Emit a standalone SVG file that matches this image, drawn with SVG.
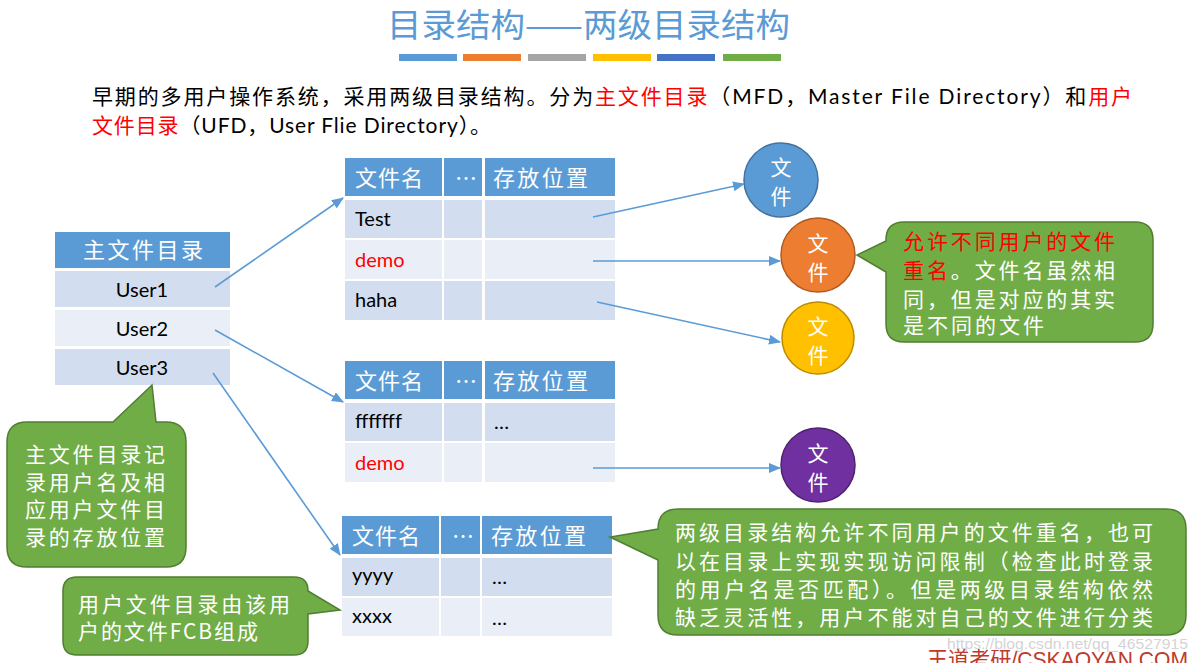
<svg xmlns="http://www.w3.org/2000/svg" width="1197" height="663" viewBox="0 0 1197 663">
<style>
.f{font-family:Lato,"Noto Sans CJK SC","Noto Sans",sans-serif}
.hd{fill:#5b9bd5}
.dk{fill:#d2deef}
.lt{fill:#eaeff7}
.ht{font-family:"Noto Sans CJK SC",sans-serif;font-size:22px;fill:#fff}
.ct{font-family:Lato,"Noto Sans CJK SC",sans-serif;font-size:20px;fill:#000}
.red{fill:#ff0000}
.call{fill:#70ad47;stroke:#507e32;stroke-width:1.5}
.cw{font-family:"Noto Sans CJK SC",sans-serif;font-size:21px;fill:#fff}
.cir{font-family:"Noto Sans CJK SC",sans-serif;font-size:21px;fill:#fff;text-anchor:middle}
.con{stroke:#5b9bd5;stroke-width:1.6;fill:none;marker-end:url(#ah)}
</style>
<defs>
<marker id="ah" markerUnits="userSpaceOnUse" markerWidth="12" markerHeight="10" refX="11" refY="5" orient="auto">
<path d="M0,0 L12,5 L0,10 Z" fill="#5b9bd5"/>
</marker>
</defs>
<rect width="1197" height="663" fill="#fff"/>

<g id="title">
<text x="387" y="37" font-family="Noto Sans CJK SC,sans-serif" font-size="33" fill="#5b9bd5" textLength="403" lengthAdjust="spacingAndGlyphs">目录结构——两级目录结构</text>
<rect x="399" y="54" width="58" height="7" fill="#5b9bd5"/>
<rect x="463" y="54" width="58" height="7" fill="#ed7d31"/>
<rect x="528" y="54" width="58" height="7" fill="#a5a5a5"/>
<rect x="593" y="54" width="58" height="7" fill="#ffc000"/>
<rect x="657" y="54" width="58" height="7" fill="#4472c4"/>
<rect x="723" y="54" width="58" height="7" fill="#70ad47"/>
</g>

<g id="intro" class="f" font-size="21">
<text x="92" y="104" textLength="1040" lengthAdjust="spacing">早期的多用户操作系统，采用两级目录结构。分为<tspan fill="#ff0000">主文件目录</tspan>（MFD，Master File Directory）和<tspan fill="#ff0000">用户</tspan></text>
<text x="92" y="133" textLength="399" lengthAdjust="spacing"><tspan fill="#ff0000">文件目录</tspan>（UFD，User Flie Directory）。</text>
</g>

<g id="mfd">
<rect class="hd" x="55" y="232" width="175" height="36"/>
<rect class="dk" x="55" y="271" width="175" height="36"/>
<rect class="lt" x="55" y="310" width="175" height="36"/>
<rect class="dk" x="55" y="349" width="175" height="36"/>
<text class="ht" x="83" y="258" textLength="120" lengthAdjust="spacing">主文件目录</text>
<text class="ct" x="142" y="297" text-anchor="middle">User1</text>
<text class="ct" x="142" y="336" text-anchor="middle">User2</text>
<text class="ct" x="142" y="375" text-anchor="middle">User3</text>
</g>

<g id="ufd1">
<rect class="hd" x="345" y="158" width="97" height="38"/>
<rect class="hd" x="444" y="158" width="38" height="38"/>
<rect class="hd" x="485" y="158" width="130" height="38"/>
<rect class="dk" x="345" y="200" width="97" height="38"/>
<rect class="dk" x="444" y="200" width="38" height="38"/>
<rect class="dk" x="485" y="200" width="130" height="38"/>
<rect class="lt" x="345" y="240" width="97" height="39"/>
<rect class="lt" x="444" y="240" width="38" height="39"/>
<rect class="lt" x="485" y="240" width="130" height="39"/>
<rect class="dk" x="345" y="281" width="97" height="39"/>
<rect class="dk" x="444" y="281" width="38" height="39"/>
<rect class="dk" x="485" y="281" width="130" height="39"/>
<text class="ht" x="355" y="186" textLength="68" lengthAdjust="spacing">文件名</text>
<text class="ht" x="455" y="186" font-family="Lato,sans-serif" font-size="18">…</text>
<text class="ht" x="493" y="186" textLength="95" lengthAdjust="spacing">存放位置</text>
<text class="ct" x="355" y="226">Test</text>
<text class="ct red" x="355" y="267">demo</text>
<text class="ct" x="355" y="307">haha</text>
</g>

<g id="ufd2">
<rect class="hd" x="345" y="361" width="97" height="38"/>
<rect class="hd" x="444" y="361" width="38" height="38"/>
<rect class="hd" x="485" y="361" width="130" height="38"/>
<rect class="dk" x="345" y="403" width="97" height="38"/>
<rect class="dk" x="444" y="403" width="38" height="38"/>
<rect class="dk" x="485" y="403" width="130" height="38"/>
<rect class="lt" x="345" y="443" width="97" height="39"/>
<rect class="lt" x="444" y="443" width="38" height="39"/>
<rect class="lt" x="485" y="443" width="130" height="39"/>
<text class="ht" x="355" y="389" textLength="68" lengthAdjust="spacing">文件名</text>
<text class="ht" x="455" y="389" font-family="Lato,sans-serif" font-size="18">…</text>
<text class="ht" x="493" y="389" textLength="95" lengthAdjust="spacing">存放位置</text>
<text class="ct" x="355" y="428">fffffff</text>
<text class="ct" x="494" y="429" font-size="17">…</text>
<text class="ct red" x="355" y="470">demo</text>
</g>

<g id="ufd3">
<rect class="hd" x="342" y="516" width="97" height="38"/>
<rect class="hd" x="441" y="516" width="39" height="38"/>
<rect class="hd" x="482" y="516" width="130" height="38"/>
<rect class="dk" x="342" y="558" width="97" height="38"/>
<rect class="dk" x="441" y="558" width="39" height="38"/>
<rect class="dk" x="482" y="558" width="130" height="38"/>
<rect class="lt" x="342" y="598" width="97" height="38"/>
<rect class="lt" x="441" y="598" width="39" height="38"/>
<rect class="lt" x="482" y="598" width="130" height="38"/>
<text class="ht" x="352" y="544" textLength="68" lengthAdjust="spacing">文件名</text>
<text class="ht" x="452" y="544" font-family="Lato,sans-serif" font-size="18">…</text>
<text class="ht" x="491" y="544" textLength="95" lengthAdjust="spacing">存放位置</text>
<text class="ct" x="352" y="582">yyyy</text>
<text class="ct" x="492" y="584" font-size="17">…</text>
<text class="ct" x="352" y="623">xxxx</text>
<text class="ct" x="492" y="625" font-size="17">…</text>
</g>

<g id="file1">
<circle cx="781" cy="180" r="37" fill="#5b9bd5" stroke="#41719c" stroke-width="1.5"/>
<text class="cir" x="781" y="175">文</text>
<text class="cir" x="781" y="204">件</text>
</g>
<g id="file2">
<circle cx="818" cy="255" r="37" fill="#ed7d31" stroke="#ae5a21" stroke-width="1.5"/>
<text class="cir" x="818" y="251">文</text>
<text class="cir" x="818" y="280">件</text>
</g>
<g id="file3">
<circle cx="818" cy="338" r="36" fill="#ffc000" stroke="#bc8c00" stroke-width="1.5"/>
<text class="cir" x="818" y="334">文</text>
<text class="cir" x="818" y="363">件</text>
</g>
<g id="file4">
<circle cx="818" cy="465" r="37" fill="#7030a0" stroke="#4e2270" stroke-width="1.5"/>
<text class="cir" x="818" y="461">文</text>
<text class="cir" x="818" y="490">件</text>
</g>

<g id="connectors">
<line class="con" x1="215" y1="287" x2="343" y2="198"/>
<line class="con" x1="215" y1="330" x2="343" y2="402"/>
<line class="con" x1="213" y1="373" x2="340" y2="555"/>
<line class="con" x1="593" y1="217" x2="744" y2="184"/>
<line class="con" x1="593" y1="261" x2="780" y2="261"/>
<line class="con" x1="597" y1="302" x2="780" y2="342"/>
<line class="con" x1="593" y1="468" x2="780" y2="468"/>
</g>

<g id="note1">
<path class="call" d="M904 222 H1135 Q1153 222 1153 240 V324 Q1153 342 1135 342 H904 Q886 342 886 324 V272 L857 255 L886 241 V240 Q886 222 904 222 Z"/>
<text class="cw" x="903" y="249" textLength="212" lengthAdjust="spacing"><tspan fill="#ff0000">允许不同用户的文件</tspan></text>
<text class="cw" x="903" y="278" textLength="212" lengthAdjust="spacing"><tspan fill="#ff0000">重名</tspan>。文件名虽然相</text>
<text class="cw" x="903" y="307" textLength="212" lengthAdjust="spacing">同，但是对应的其实</text>
<text class="cw" x="903" y="333" textLength="141" lengthAdjust="spacing">是不同的文件</text>
</g>

<g id="note2">
<path class="call" d="M27 422 H113 L152 385 L156 422 H166 Q186 422 186 442 V547 Q186 567 166 567 H27 Q7 567 7 547 V442 Q7 422 27 422 Z"/>
<text class="cw" x="25" y="462" textLength="140" lengthAdjust="spacing">主文件目录记</text>
<text class="cw" x="25" y="490" textLength="140" lengthAdjust="spacing">录用户名及相</text>
<text class="cw" x="25" y="517" textLength="140" lengthAdjust="spacing">应用户文件目</text>
<text class="cw" x="25" y="545" textLength="140" lengthAdjust="spacing">录的存放位置</text>
</g>

<g id="note3">
<path class="call" d="M77 577 H294 Q308 577 308 591 L340 610 L308 614 V641 Q308 655 294 655 H77 Q63 655 63 641 V591 Q63 577 77 577 Z"/>
<text class="cw" x="78" y="612" textLength="212" lengthAdjust="spacing">用户文件目录由该用</text>
<text class="cw" x="78" y="639" textLength="180" lengthAdjust="spacing">户的文件FCB组成</text>
</g>

<g id="note4">
<path class="call" d="M678 509 H1166 Q1186 509 1186 529 V615 Q1186 635 1166 635 H678 Q658 635 658 615 V560 L610 537 L658 529 Q658 509 678 509 Z"/>
<text class="cw" x="675" y="540" textLength="478" lengthAdjust="spacing">两级目录结构允许不同用户的文件重名，也可</text>
<text class="cw" x="675" y="569" textLength="478" lengthAdjust="spacing">以在目录上实现实现访问限制（检查此时登录</text>
<text class="cw" x="675" y="597" textLength="478" lengthAdjust="spacing">的用户名是否匹配）。但是两级目录结构依然</text>
<text class="cw" x="675" y="625" textLength="478" lengthAdjust="spacing">缺乏灵活性，用户不能对自己的文件进行分类</text>
</g>

<g id="watermark">
<text x="947" y="649" font-family="Liberation Sans,sans-serif" font-size="14" fill="#c8c8c8" fill-opacity="0.8" textLength="241" lengthAdjust="spacingAndGlyphs">https://blog.csdn.net/qq_46527915</text>
<text x="927" y="667" font-family="Liberation Sans,Noto Sans CJK SC,sans-serif" font-size="22" fill="#c0392b" textLength="261" lengthAdjust="spacingAndGlyphs">王道考研/CSKAOYAN.COM</text>
</g>
</svg>
